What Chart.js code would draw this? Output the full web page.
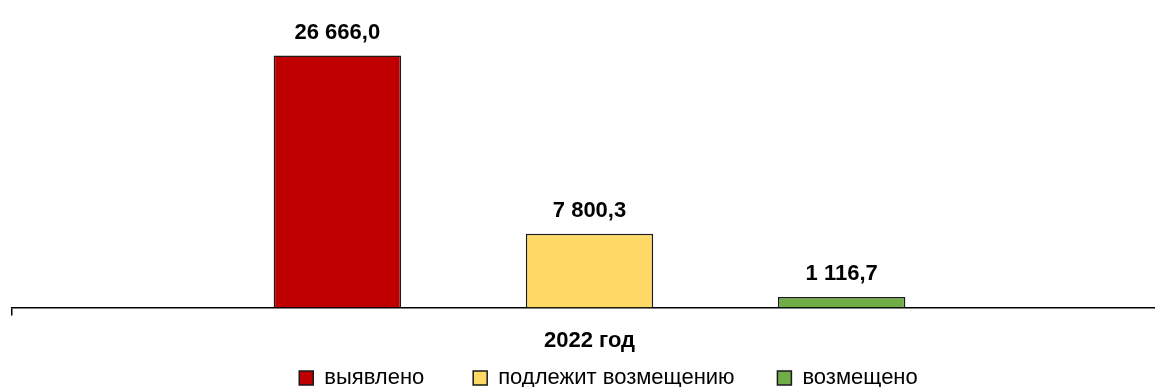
<!DOCTYPE html>
<html>
<head>
<meta charset="utf-8">
<script src="https://cdn.jsdelivr.net/npm/chart.js@4/dist/chart.umd.min.js"></script>
<style>
  html, body { margin: 0; padding: 0; background: #fff; overflow: hidden; }
  #wrap { width: 1170px; height: 387px; }
</style>
</head>
<body>
<div id="wrap"><canvas id="grafico" width="1170" height="387"></canvas></div>
<script>
// Datos del gráfico
const categorias = ['2022 год'];
const series = ['выявлено', 'подлежит возмещению', 'возмещено'];
const valores = [26666.0, 7800.3, 1116.7];
const colores = ['#C00000', '#FFD966', '#70AD47'];

const fuente = '"Liberation Sans", Arial, sans-serif';

// Formato ruso: espacio como separador de miles y coma decimal
function formatear(v) {
    const partes = v.toFixed(1).split('.');
    const entero = partes[0].replace(/\B(?=(\d{3})+(?!\d))/g, ' ');
    return entero + ',' + partes[1];
}

// Etiquetas de valores encima de las barras
const etiquetasPlugin = {
    id: 'etiquetas',
    afterDatasetsDraw(chart) {
        const ctx = chart.ctx;
        ctx.save();
        ctx.fillStyle = '#000';
        ctx.font = 'bold 22px ' + fuente;
        ctx.textAlign = 'center';
        ctx.textBaseline = 'alphabetic';
        chart.data.datasets.forEach((ds, i) => {
            const meta = chart.getDatasetMeta(i);
            meta.data.forEach((bar, j) => {
                ctx.fillText(formatear(ds.data[j]), bar.x, bar.y - 17);
            });
        });
        ctx.restore();
    }
};

// Desplazar la leyenda un poco a la derecha (como en el original)
const leyendaPlugin = {
    id: 'leyendaDesplazada',
    afterLayout(chart) {
        if (chart.legend) {
            chart.legend.left += 19;
            chart.legend.right += 19;
        }
    }
};

// Espacios extra tras cada texto de la leyenda
const espacios = ['        ', '       ', ''];

const datasets = series.map((nombre, i) => ({
    label: nombre,
    data: [valores[i]],
    backgroundColor: colores[i],
    borderColor: '#1a1a1a',
    borderWidth: 1.5,
    categoryPercentage: 0.655,
    barPercentage: 0.505
}));

new Chart(document.getElementById('grafico'), {
    type: 'bar',
    data: {
        labels: categorias,
        datasets: datasets
    },
    options: {
        responsive: false,
        animation: false,
        layout: {
            padding: { left: 12, right: 3, top: 24, bottom: -12 }
        },
        plugins: {
            legend: {
                position: 'bottom',
                labels: {
                    color: '#000',
                    boxWidth: 14,
                    boxHeight: 14,
                    padding: 0,
                    font: { family: fuente, size: 22 },
                    generateLabels(chart) {
                        const items = Chart.defaults.plugins.legend.labels.generateLabels(chart);
                        items.forEach((it, i) => {
                            it.text = it.text + (espacios[i] || '');
                        });
                        return items;
                    }
                }
            },
            tooltip: { enabled: false }
        },
        scales: {
            x: {
                grid: {
                    display: true,
                    drawOnChartArea: false,
                    color: '#000',
                    tickLength: 8,
                    lineWidth: 1.5
                },
                border: { display: true, color: '#000', width: 1.5 },
                ticks: {
                    color: '#000',
                    padding: 12,
                    font: { family: fuente, size: 22, weight: 'bold', lineHeight: 1.25 }
                }
            },
            y: {
                display: false,
                min: 0,
                max: 30000
            }
        }
    },
    plugins: [etiquetasPlugin, leyendaPlugin]
});
</script>
</body>
</html>
